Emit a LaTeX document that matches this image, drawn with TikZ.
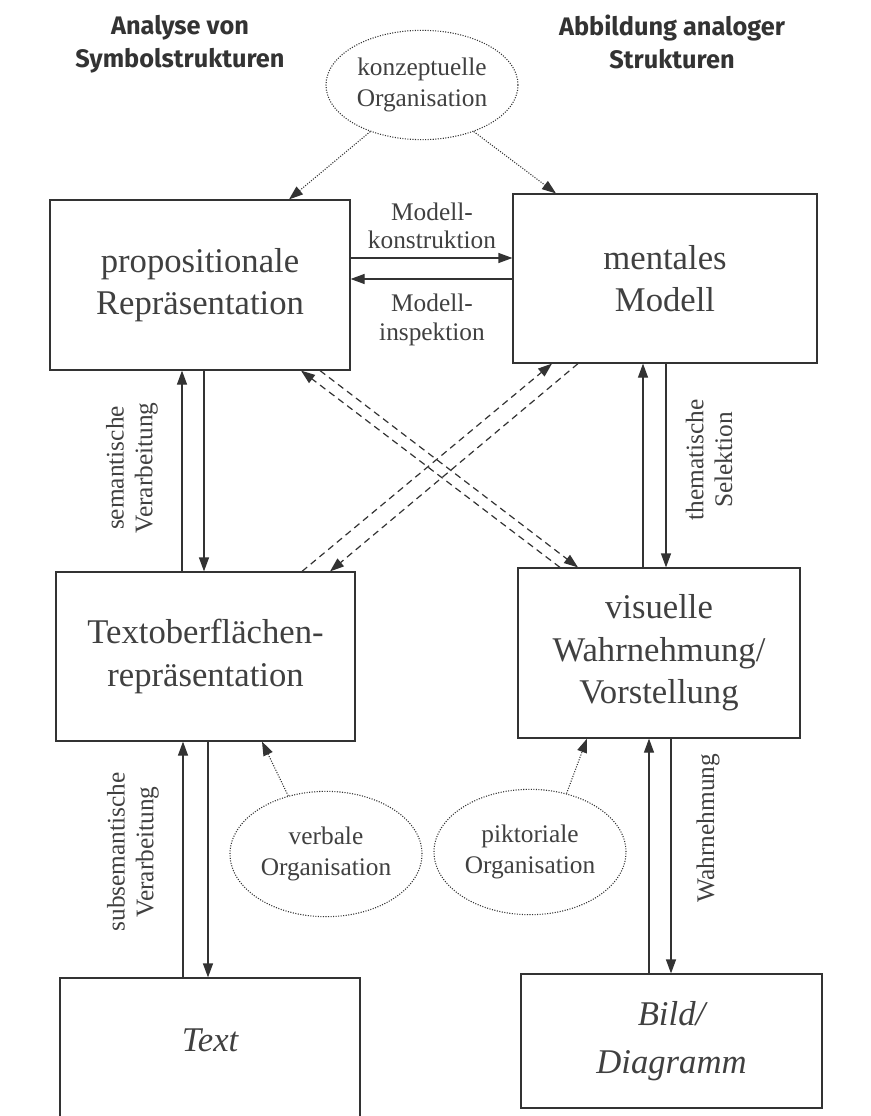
\documentclass[tikz,border=0pt]{standalone}
\usepackage{fontspec}
\setmainfont{Liberation Serif}
\newfontfamily\hdrfont{Fira Sans}
\usetikzlibrary{arrows.meta,shapes.geometric}
\definecolor{ink}{gray}{0.2}
\definecolor{txt}{gray}{0.25}
\begin{document}
\begin{tikzpicture}[x=0.75pt,y=-0.75pt,
  box/.style={draw=ink, line width=0.9pt, inner sep=0pt, align=center, text=txt, font=\fontsize{26}{32}\selectfont},
  itl/.style={align=center, text=txt, font=\itshape\fontsize{26}{36}\selectfont},
  org/.style={draw=ink, ellipse, line width=0.8pt, dash pattern=on 0.8pt off 1.1pt, inner sep=0pt, align=center, text=txt, font=\fontsize{19}{23}\selectfont},
  lab/.style={align=center, text=txt, font=\fontsize{19}{21.5}\selectfont},
  hdr/.style={align=center, text=ink, font=\hdrfont\bfseries\fontsize{19}{25}\selectfont},
  arr/.style={-{Triangle[length=10.5pt,width=7.5pt]}, line width=0.9pt, draw=ink},
  dsh/.style={dash pattern=on 5pt off 3.5pt},
  dotline/.style={dash pattern=on 0.8pt off 1.1pt, line width=0.8pt}
]
\useasboundingbox (0,0) rectangle (870,1116);
\fill[white] (0,0) rectangle (870,1116);

% headers
\node[hdr] (hl) at (180,44) {Analyse von\\Symbolstrukturen};
\node[hdr] (hr) at (672,42) {Abbildung analoger\\Strukturen};

% boxes
\node[box, minimum width=225pt, minimum height=127.5pt] (prop) at (200,285) {propositionale\\Repräsentation};
\node[box, minimum width=228pt, minimum height=126.75pt] (ment) at (665,278.5) {mentales\\Modell};
\node[box, minimum width=224.25pt, minimum height=126.75pt] (tob) at (205.5,656.5) {Textoberflächen-\\repräsentation};
\node[box, minimum width=211.5pt, minimum height=127.5pt] (vis) at (659,653) {visuelle\\Wahrnehmung/\\Vorstellung};
\node[box, minimum width=225pt, minimum height=109.5pt] (txtb) at (210,1051) {};
\node[itl] (txtl) at (210,1040) {Text};
\node[box, minimum width=225.75pt, minimum height=100.5pt] (bild) at (671.5,1041) {};
\node[itl] (bildl) at (bild.center) {Bild/\\Diagramm};

% organisation ellipses
\node[org, minimum width=144pt, minimum height=82pt] (konz) at (422,85) {konzeptuelle\\Organisation};
\node[org, minimum width=144pt, minimum height=94pt] (verb) at (326,854) {verbale\\Organisation};
\node[org, minimum width=144pt, minimum height=94pt] (pikt) at (530,852) {piktoriale\\Organisation};

% x positions
\coordinate (xa) at (182,0);
\coordinate (xb) at (204,0);
\coordinate (xc) at (643,0);
\coordinate (xd) at (666,0);
\coordinate (xe) at (183,0);
\coordinate (xf) at (208,0);
\coordinate (xg) at (649,0);
\coordinate (xh) at (671,0);
\coordinate (ya) at (0,258);
\coordinate (yb) at (0,279);
\coordinate (d1) at (301,0);
\coordinate (d2) at (560,0);
\coordinate (d3) at (320,0);
\coordinate (d4) at (578,0);
\coordinate (d5) at (302,0);
\coordinate (d6) at (552,0);
\coordinate (d7) at (578,0);
\coordinate (d8) at (330,0);
\coordinate (k1) at (289,0);
\coordinate (k2) at (556,0);
\coordinate (v1) at (262,0);
\coordinate (p1) at (587,0);

% horizontal arrows
\draw[arr] (prop.east |- ya) -- (ment.west |- ya);
\draw[arr] (ment.west |- yb) -- (prop.east |- yb);
\node[lab] (lk) at (432,226) {Modell-\\konstruktion};
\node[lab] (li) at (432,320) {Modell-\\inspektion};

% vertical arrows
\draw[arr] (tob.north -| xa) -- (prop.south -| xa);
\draw[arr] (prop.south -| xb) -- (tob.north -| xb);
\node[lab, rotate=90] (ls) at (132,468) {semantische\\Verarbeitung};

\draw[arr] (vis.north -| xc) -- (ment.south -| xc);
\draw[arr] (ment.south -| xd) -- (vis.north -| xd);
\node[lab, rotate=90] (lt) at (709,460) {thematische\\Selektion};

\draw[arr] (txtb.north -| xe) -- (tob.south -| xe);
\draw[arr] (tob.south -| xf) -- (txtb.north -| xf);
\node[lab, rotate=90] (lss) at (133,852) {subsemantische\\Verarbeitung};

\draw[arr] (bild.north -| xg) -- (vis.south -| xg);
\draw[arr] (vis.south -| xh) -- (bild.north -| xh);
\node[lab, rotate=90] (lw) at (708,828) {Wahrnehmung};

% dashed diagonals
\draw[arr, dsh] (vis.north -| d2) -- (prop.south -| d1);
\draw[arr, dsh] (prop.south -| d3) -- (vis.north -| d4);
\draw[arr, dsh] (tob.north -| d5) -- (ment.south -| d6);
\draw[arr, dsh] (ment.south -| d7) -- (tob.north -| d8);

% dotted arrows from organisation
\draw[arr, dotline] (konz.222) -- (prop.north -| k1);
\draw[arr, dotline] (konz.318) -- (ment.north -| k2);
\draw[arr, dotline] (verb.123) -- (tob.south -| v1);
\draw[arr, dotline] (pikt.58) -- (vis.south -| p1);
\end{tikzpicture}
\end{document}
